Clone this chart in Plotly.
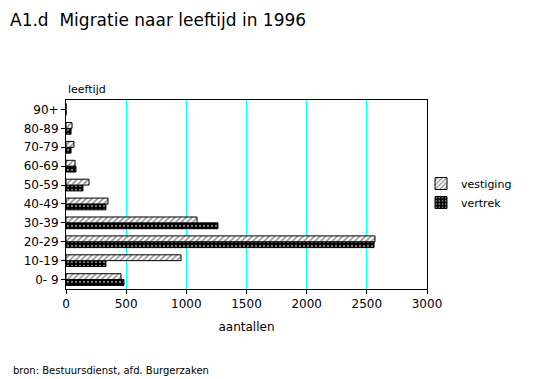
import plotly.graph_objects as go

leeftijd = ["0- 9", "10-19", "20-29", "30-39", "40-49", "50-59", "60-69", "70-79", "80-89", "90+"]
vestiging = [457, 956, 2568, 1089, 349, 191, 75, 66, 50, 0]
vertrek = [482, 332, 2560, 1263, 332, 141, 83, 42, 42, 0]

FONT = "DejaVu Sans, Liberation Sans, Arial, sans-serif"

fig = go.Figure()
fig.add_trace(go.Bar(
    y=leeftijd, x=vertrek, orientation="h", name="vertrek",
    marker=dict(color="black", line=dict(color="black", width=1),
                pattern=dict(shape=".", fgcolor="white", bgcolor="black", size=4, solidity=0.25)),
))
fig.add_trace(go.Bar(
    y=leeftijd, x=vestiging, orientation="h", name="vestiging",
    marker=dict(color="white", line=dict(color="black", width=1),
                pattern=dict(shape="/", fgcolor="black", bgcolor="white", size=4, solidity=0.35)),
))

# page has an 8px body margin, so the figure is drawn 8px in from the top-left
OFF = 8
W, H = 556 - OFF, 379 - OFF
L, R, T, B = 66 - OFF, 129, 100 - OFF, 90
pw, ph = W - L - R, H - T - B

def px_x(x):
    return (x - OFF - L) / pw

def px_y(y):
    return (H - B - (y - OFF)) / ph

fig.update_layout(
    width=W, height=H,
    margin=dict(l=L, r=R, t=T, b=B),
    paper_bgcolor="white", plot_bgcolor="white",
    font=dict(family=FONT, size=12, color="black"),
    barmode="group", bargap=0.38, bargroupgap=0,
    title=dict(text="A1.d  Migratie naar leeftijd in 1996", x=(10 - OFF) / W, xref="container",
               xanchor="left", y=1 - (20 - OFF) / H, yref="container", yanchor="middle",
               font=dict(size=17, family=FONT, color="black")),
    legend=dict(x=px_x(421), y=px_y(193), xanchor="left", yanchor="middle",
                traceorder="reversed", font=dict(size=11), bgcolor="rgba(0,0,0,0)",
                itemwidth=30, tracegroupgap=0),
    xaxis=dict(range=[0, 3000], dtick=500, showgrid=True, gridcolor="#00FFFF", gridwidth=1,
               showline=True, linecolor="black", linewidth=1, mirror=True,
               ticks="outside", ticklen=4, tickcolor="black", zeroline=False,
               tickfont=dict(size=12),
               title=dict(text="aantallen", font=dict(size=12), standoff=12)),
    yaxis=dict(type="category", showgrid=False, showline=True, linecolor="black", linewidth=1,
               mirror=True, ticks="outside", ticklen=4, tickcolor="black",
               tickfont=dict(size=12), range=[-0.5, 9.5]),
    annotations=[
        dict(text="leeftijd", xref="paper", yref="paper", x=0, y=px_y(90),
             xanchor="left", yanchor="middle", showarrow=False, font=dict(size=11)),
        dict(text="bron: Bestuursdienst, afd. Burgerzaken", xref="paper", yref="paper",
             x=px_x(11), y=px_y(370), xanchor="left", yanchor="middle", showarrow=False,
             font=dict(size=10)),
    ],
)

fig.write_html("out.html")
